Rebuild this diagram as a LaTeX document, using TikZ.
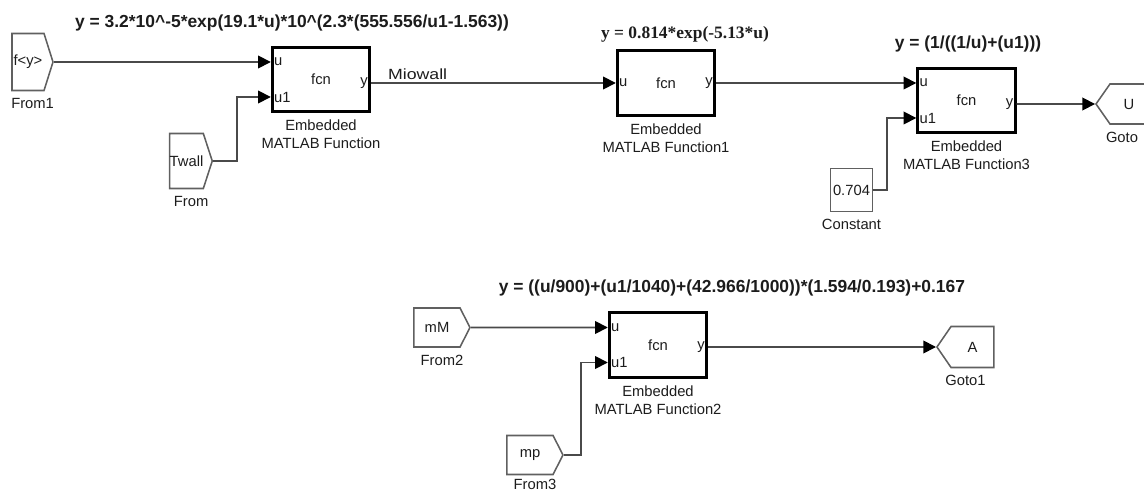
\documentclass[tikz,border=0pt]{standalone}
\usepackage{fontspec}
\setmainfont{Liberation Sans}
\newfontfamily\timesbold{Liberation Serif}
\usepackage{xcolor}
\definecolor{WireGray}{HTML}{4A4A4A}
\definecolor{EdgeGray}{HTML}{606060}
\definecolor{Ink}{HTML}{1C1C1C}
\colorlet{wiregray}{WireGray}
\colorlet{edgegray}{EdgeGray}
\colorlet{ink}{Ink}
\usepackage{tikz}
\usetikzlibrary{arrows.meta,positioning,shapes.symbols,calc}

\begin{document}
\begin{tikzpicture}[x=0.025cm,y=-0.025cm,
  every node/.style={font=\fontsize{10.5}{12.8}\selectfont,text=ink,align=center},
  node distance=1.7mm,
  fcnbox/.style={draw=black,line width=2pt,minimum width=24.4mm,minimum height=16.1mm,inner sep=0pt},
  fromtag/.style={draw=edgegray,line width=1.1pt,signal,signal to=east,inner sep=0pt},
  gototag/.style={draw=edgegray,line width=1.1pt,signal,signal to=west,inner sep=0pt},
  constbox/.style={draw=edgegray,line width=1.1pt,minimum width=10.4mm,minimum height=10.7mm,inner sep=0pt},
  port/.style={inner sep=2.2pt},
  lbl/.style={inner sep=0pt},
  title/.style={font=\fontsize{12.4}{14}\selectfont\bfseries,inner sep=0pt,anchor=base},
  link/.style={draw=wiregray,line width=1.2pt,-{Triangle[length=9pt,width=9pt,color=black]}}]
\useasboundingbox (0,0) rectangle (1144,491);

% equations
\node[title] (t1) at (292,28) {y = 3.2*10\textasciicircum-5*exp(19.1*u)*10\textasciicircum(2.3*(555.556/u1-1.563))};
\node[title,font=\fontsize{12.4}{14}\selectfont\timesbold\bfseries] (t2) at (685,39) {y = 0.814*exp(-5.13*u)};
\node[title] (t3) at (968,49) {y = (1/((1/u)+(u1)))};
\node[title] (t4) at (732,292) {y = ((u/900)+(u1/1040)+(42.966/1000))*(1.594/0.193)+0.167};

% function blocks
\node[fcnbox] (b1) at (321,79.5) {fcn};
\node[fcnbox] (b2) at (666,83) {fcn};
\node[fcnbox] (b3) at (966.5,100.5) {fcn};
\node[fcnbox] (b4) at (658,345) {fcn};
\node[lbl,below=of b1] (b1l) {Embedded\\MATLAB Function};
\node[lbl,below=of b2] (b2l) {Embedded\\MATLAB Function1};
\node[lbl,below=of b3] (b3l) {Embedded\\MATLAB Function3};
\node[lbl,below=of b4] (b4l) {Embedded\\MATLAB Function2};

% ports
\node[port,anchor=west] (b1u) at ($(b1.west)+(0,-17.5)$) {u};
\node[port,anchor=west] (b1u1) at ($(b1.west)+(0,17.5)$) {u1};
\node[port,anchor=east] (b1y) at ($(b1.east)+(0,3.5)$) {y};
\node[port,anchor=west] (b2u) at (b2.west) {u};
\node[port,anchor=east] (b2y) at (b2.east) {y};
\node[port,anchor=west] (b3u) at ($(b3.west)+(0,-17.5)$) {u};
\node[port,anchor=west] (b3u1) at ($(b3.west)+(0,17.5)$) {u1};
\node[port,anchor=east] (b3y) at ($(b3.east)+(0,3.5)$) {y};
\node[port,anchor=west] (b4u) at ($(b4.west)+(0,-17.5)$) {u};
\node[port,anchor=west] (b4u1) at ($(b4.west)+(0,17.5)$) {u1};
\node[port,anchor=east] (b4y) at ($(b4.east)+(0,2)$) {y};

% from / goto tags
\node[fromtag,minimum width=10.25mm,minimum height=14.25mm,signal pointer angle=145] (from1) at (28,62) {f<y>};
\node[fromtag,minimum width=10.5mm,minimum height=13.75mm,signal pointer angle=144] (twall) at (186.5,161) {Twall};
\node[fromtag,minimum width=14mm,minimum height=9.75mm,signal pointer angle=126] (from2) at (437,327.5) {mM};
\node[fromtag,minimum width=14mm,minimum height=9.75mm,signal pointer angle=126] (from3) at (530,455) {mp};
\node[constbox] (cst) at (851.5,190) {0.704};
\node[gototag,minimum width=13mm,minimum height=10mm,signal pointer angle=110] (goto) at (1129,104) {U};
\node[gototag,minimum width=14.25mm,minimum height=10.25mm,signal pointer angle=111] (goto1) at (972.5,347) {A};
\node[lbl,below=of from1,xshift=1.15mm] (from1l) {From1};
\node[lbl,below=of twall,xshift=1.15mm] (twalll) {From};
\node[lbl,below=of from2,xshift=1.25mm] (from2l) {From2};
\node[lbl,below=1mm of from3,xshift=1.25mm] (from3l) {From3};
\node[lbl,below=of cst] (cstl) {Constant};
\node[lbl,below=of goto,xshift=-1.75mm] (gotol) {Goto};
\node[lbl,below=of goto1,xshift=-1.75mm] (goto1l) {Goto1};

% signal lines
\draw[link] (from1.east) -- (from1.east -| b1u.west);
\draw[link] (twall.east) -- ++(24,0) |- (b1u1.west);
\draw[link] (b1y.east) -- node[lbl,pos=0,anchor=base west,xshift=4mm,yshift=0.75mm] (mio) {\scalebox{1.2}[1]{Miowall}} (b2u.west);
\draw[link] (b2y.east) -- (b3u.west);
\draw[link] (cst.east) -- ++(14,0) |- (b3u1.west);
\draw[link] (b3y.east) -- (goto.west);
\draw[link] (from2.east) -- (b4u.west);
\draw[link] (from3.east) -- ++(17,0) |- (b4u1.west);
\draw[link] (b4y.east) -- (goto1.west);
\end{tikzpicture}
\end{document}
